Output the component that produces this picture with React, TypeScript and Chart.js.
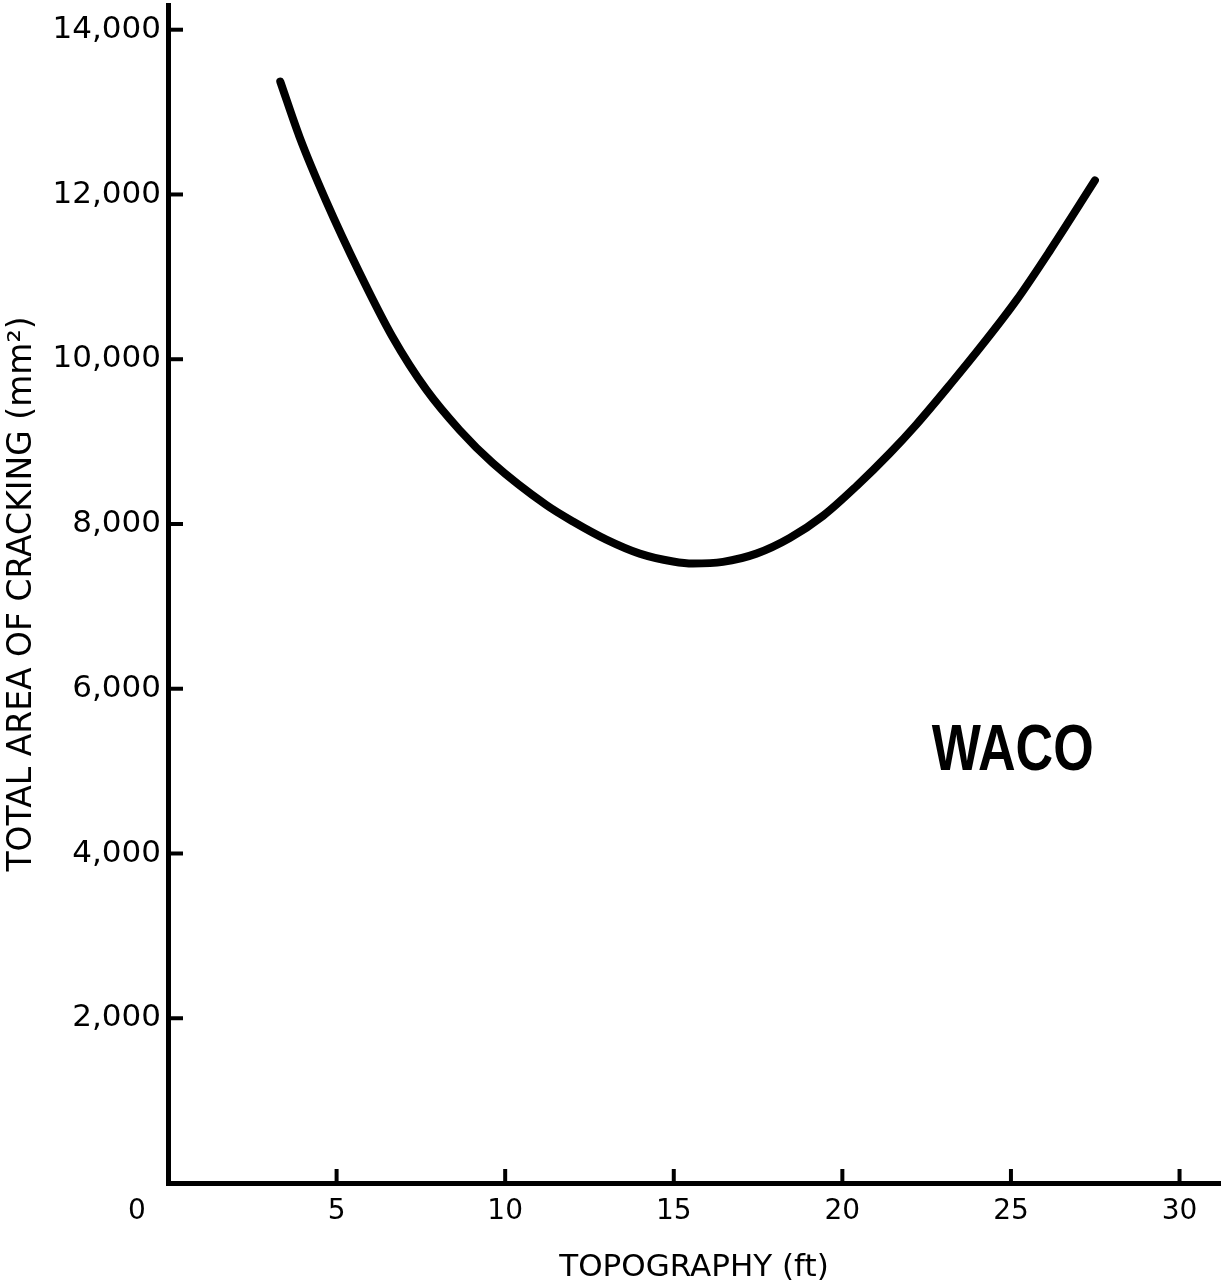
import React, { useEffect, useRef } from 'react';
import { Chart, registerables } from 'chart.js';

Chart.register(...registerables);

// Data
const topography = [3.33, 3.9, 4.69, 5.68, 6.66, 7.66, 8.65, 9.63, 11.22, 12.01, 13.0, 13.99, 14.98, 15.57, 16.46, 17.45, 18.44, 19.43, 20.42, 21.41, 22.2, 23.19, 24.18, 25.17, 26.16, 27.49];
const crackingArea = [13370, 12700, 11920, 11050, 10270, 9630, 9140, 8740, 8230, 8030, 7810, 7640, 7545, 7520, 7540, 7640, 7830, 8100, 8460, 8860, 9210, 9690, 10190, 10720, 11320, 12170];

const xTickValues = [0, 5, 10, 15, 20, 25, 30];
const yTickValues = [2000, 4000, 6000, 8000, 10000, 12000, 14000];

const xTitle = 'TOPOGRAPHY (ft)';
const yTitle = 'TOTAL AREA OF CRACKING (mm²)';
const siteLabel = { text: 'WACO', x: 25.05, y: 5230 };

const FONT = '"DejaVu Sans", "Liberation Sans", sans-serif';

const decorPlugin = {
  id: 'decor',
  afterDraw(chart: any) {
    const { ctx, chartArea, scales } = chart;
    const xs = scales.x;
    const ys = scales.y;
    ctx.save();
    ctx.strokeStyle = '#000';
    ctx.lineWidth = 4;
    ctx.lineCap = 'butt';
    yTickValues.forEach((v) => {
      const py = ys.getPixelForValue(v);
      ctx.beginPath();
      ctx.moveTo(chartArea.left, py);
      ctx.lineTo(chartArea.left + 15, py);
      ctx.stroke();
    });
    xTickValues
      .filter((v) => v !== 0)
      .forEach((v) => {
        const px = xs.getPixelForValue(v);
        ctx.beginPath();
        ctx.moveTo(px, chartArea.bottom);
        ctx.lineTo(px, chartArea.bottom - 14);
        ctx.stroke();
      });
    // origin label
    ctx.fillStyle = '#000';
    ctx.font = `28px ${FONT}`;
    ctx.textAlign = 'center';
    ctx.textBaseline = 'middle';
    ctx.fillText('0', xs.getPixelForValue(0) - 31, chartArea.bottom + 29);

    // site label
    ctx.font = `bold 64px "Liberation Sans", Arial, sans-serif`;
    const w = ctx.measureText(siteLabel.text).width;
    const sx = 162 / w;
    ctx.translate(xs.getPixelForValue(siteLabel.x), ys.getPixelForValue(siteLabel.y));
    ctx.scale(sx, 1);
    ctx.fillText(siteLabel.text, 0, 0);
    ctx.restore();
  },
};

export default function App() {
  const canvasRef = useRef<HTMLCanvasElement | null>(null);

  useEffect(() => {
    document.body.style.margin = '0';
    const canvas = canvasRef.current;
    if (!canvas) return;
    const chart = new Chart(canvas, {
      type: 'scatter',
      data: {
        datasets: [
          {
            data: topography.map((x, i) => ({ x, y: crackingArea[i] })),
            showLine: true,
            borderColor: '#000',
            borderWidth: 8,
            borderCapStyle: 'round',
            borderJoinStyle: 'round',
            pointRadius: 0,
            cubicInterpolationMode: 'monotone',
            fill: false,
          },
        ],
      },
      options: {
        responsive: false,
        animation: false,
        devicePixelRatio: 1,
        layout: { padding: { top: 5, right: 2, left: 0, bottom: 0 } },
        plugins: {
          legend: { display: false },
          tooltip: { enabled: false },
        },
        scales: {
          x: {
            type: 'linear',
            min: 0,
            max: 31.2,
            afterBuildTicks: (axis: any) => {
              axis.ticks = xTickValues.map((v) => ({ value: v }));
            },
            afterFit: (axis: any) => {
              axis.height = 105;
              axis.paddingLeft = 0;
              axis.paddingRight = 0;
            },
            grid: { display: false, drawTicks: false },
            border: { display: true, color: '#000', width: 5 },
            ticks: {
              color: '#000',
              padding: 12,
              font: { family: FONT, size: 28 },
              callback: (v: any) => (v === 0 ? '' : String(v)),
            },
            title: {
              display: true,
              text: xTitle,
              color: '#000',
              font: { family: FONT, size: 31 },
              padding: { top: 0, bottom: 1 },
            },
          },
          y: {
            type: 'linear',
            min: 0,
            max: 14300,
            afterBuildTicks: (axis: any) => {
              axis.ticks = yTickValues.map((v) => ({ value: v }));
            },
            afterFit: (axis: any) => {
              axis.width = 168;
              axis.paddingTop = 0;
              axis.paddingBottom = 0;
            },
            grid: { display: false, drawTicks: false },
            border: { display: true, color: '#000', width: 5 },
            ticks: {
              color: '#000',
              padding: 7,
              font: { family: FONT, size: 31 },
              callback: (v: any) => Number(v).toLocaleString('en-US'),
            },
            title: {
              display: true,
              text: yTitle,
              color: '#000',
              font: { family: FONT, size: 33 },
              padding: { top: 3, bottom: 0 },
            },
          },
        },
      },
      plugins: [decorPlugin],
    } as any);
    return () => chart.destroy();
  }, []);

  return (
    <div style={{ width: 1222, height: 1288, background: '#fff' }}>
      <canvas ref={canvasRef} width={1222} height={1288} style={{ display: 'block' }} />
    </div>
  );
}
